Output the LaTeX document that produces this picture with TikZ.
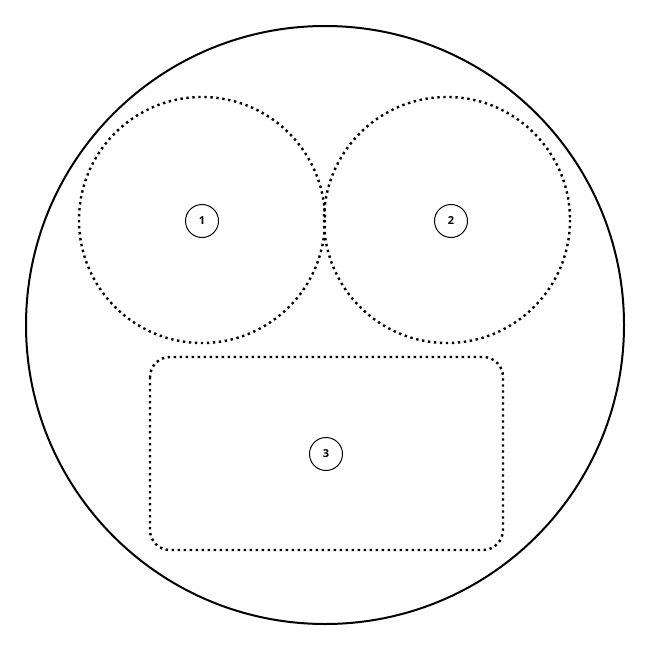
\documentclass[tikz,border=0pt]{standalone}
\usepackage{fontspec}
\setmainfont{Open Sans}
\begin{document}
\begin{tikzpicture}[x=1pt,y=-1pt,
  outer/.style={draw=black,line width=2pt},
  dotline/.style={draw=black,line width=2.4pt,dash pattern=on 2.4pt off 3.6pt},
  num/.style={circle,draw=black,line width=1pt,minimum size=33pt,inner sep=0pt,font=\bfseries\fontsize{11}{13}\selectfont}]
\useasboundingbox (0,0) rectangle (650,650);
\draw[outer] (325,325) circle (299);
\draw[dotline] (202,220) circle (123);
\draw[dotline] (447,220) circle (123);
\draw[dotline,rounded corners=20pt] (150,357) rectangle (503,550);
\node[num] (n1) at (202,221) {1};
\node[num] (n2) at (451,221) {2};
\node[num] (n3) at (326,454) {3};
\end{tikzpicture}
\end{document}
